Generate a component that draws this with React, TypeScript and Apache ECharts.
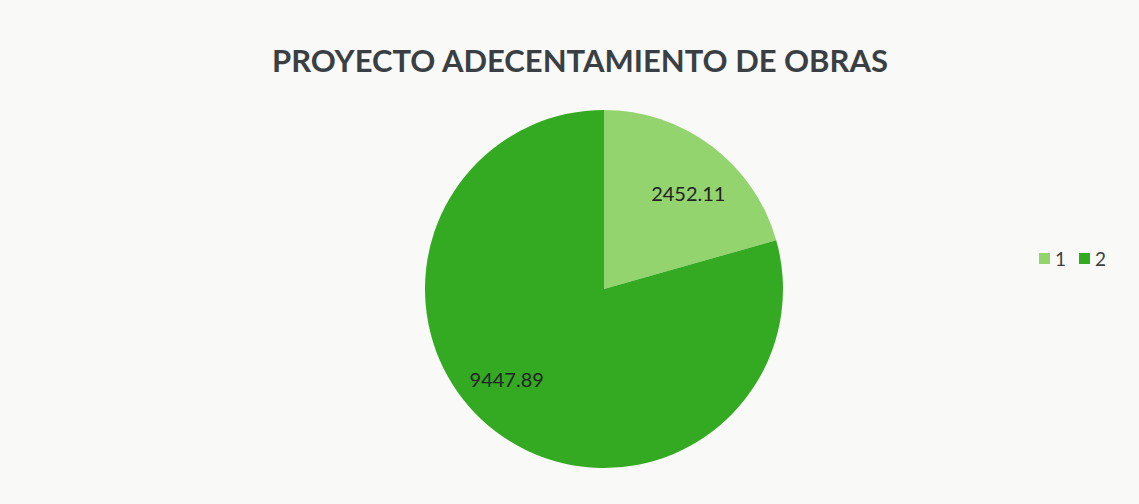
import React, { useEffect, useRef } from "react";
import * as echarts from "echarts";

const titleText = "PROYECTO ADECENTAMIENTO DE OBRAS";
const categories = ["1", "2"];
const values = [2452.11, 9447.89];
const colors = ["#93d46f", "#33aa22"];
const labelShift = [
  [5, 9],
  [-18, -15],
];

export default function App() {
  const ref = useRef<HTMLDivElement>(null);
  useEffect(() => {
    document.body.style.margin = "0";
    const chart = echarts.init(ref.current!, null, { renderer: "svg" });
    const data = categories.map((c, i) => ({
      name: c,
      value: values[i],
      itemStyle: { color: colors[i] },
    }));
    chart.setOption({
      animation: false,
      backgroundColor: "#f9f9f7",
      title: {
        text: titleText,
        left: 575,
        textAlign: "center",
        top: 39,
        textStyle: {
          fontFamily: "Lato",
          fontWeight: "bold",
          fontSize: 31,
          color: "#3a3f44",
        },
      },
      legend: {
        orient: "horizontal",
        left: 1034,
        top: 244,
        itemWidth: 11,
        itemHeight: 11,
        itemGap: 13,
        icon: "rect",
        textStyle: { fontFamily: "Lato", fontSize: 19, color: "#404040" },
        data: categories,
      },
      series: [
        {
          type: "pie",
          center: [604, 289],
          radius: [0, 179],
          startAngle: 90,
          clockwise: true,
          label: { show: false },
          labelLine: { show: false },
          emphasis: { disabled: true },
          data,
        },
        {
          type: "pie",
          center: [604, 289],
          radius: [78, 179],
          startAngle: 90,
          clockwise: true,
          silent: true,
          itemStyle: { color: "transparent" },
          label: {
            show: true,
            position: "inside",
            formatter: (p: any) => p.value.toFixed(2),
            fontFamily: "Lato",
            fontSize: 20,
            color: "#222222",
          },
          labelLayout: (p: any) => ({
            dx: labelShift[p.dataIndex][0],
            dy: labelShift[p.dataIndex][1],
          }),
          labelLine: { show: false },
          emphasis: { disabled: true },
          data: categories.map((c, i) => ({ name: c, value: values[i] })),
        },
      ],
    });
    return () => chart.dispose();
  }, []);
  return <div ref={ref} style={{ width: 1139, height: 504 }} />;
}
